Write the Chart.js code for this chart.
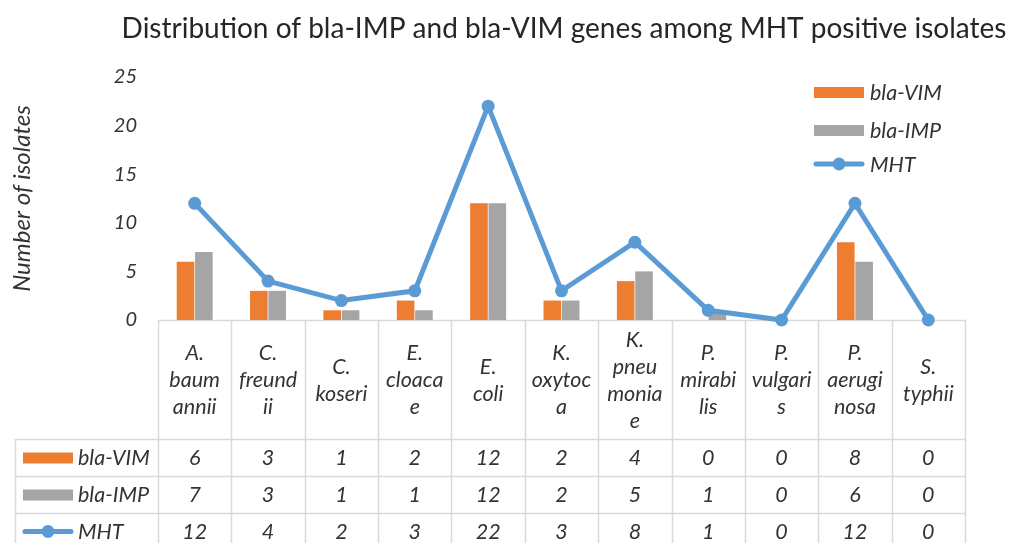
<!DOCTYPE html>
<html>
<head>
<meta charset="utf-8">
<script src="https://cdn.jsdelivr.net/npm/chart.js@4.4.1/dist/chart.umd.min.js"></script>
<style>
html,body{margin:0;padding:0;background:#fff;}
#wrap{width:1010px;height:543px;position:relative;}
</style>
</head>
<body>
<div id="wrap"><canvas id="c" width="1010" height="543"></canvas></div>
<script>
// ---- data ----
const titleText = 'Distribution of bla-IMP and bla-VIM genes among MHT positive isolates';
const yAxisTitle = 'Number of isolates';
const categories = ['A. baumannii','C. freundii','C. koseri','E. cloacae','E. coli','K. oxytoca','K. pneumoniae','P. mirabilis','P. vulgaris','P. aeruginosa','S. typhii'];
const categoryLines = [
  ['A.','baum','annii'],
  ['C.','freund','ii'],
  ['C.','koseri'],
  ['E.','cloaca','e'],
  ['E.','coli'],
  ['K.','oxytoc','a'],
  ['K.','pneu','monia','e'],
  ['P.','mirabi','lis'],
  ['P.','vulgari','s'],
  ['P.','aerugi','nosa'],
  ['S.','typhii']
];
const seriesNames = ['bla-VIM','bla-IMP','MHT'];
const blaVIM = [6,3,1,2,12,2,4,0,0,8,0];
const blaIMP = [7,3,1,1,12,2,5,1,0,6,0];
const MHT    = [12,4,2,3,22,3,8,1,0,12,0];
const yTicks = [0,5,10,15,20,25];

const ORANGE = '#ED7D31', GRAY = '#A5A5A5', BLUE = '#5B9BD5';
const TEXT = '#333333', GRID = '#D9D9D9';
const FONT = 'Lato, "Open Sans", sans-serif';

const tablePlugin = {
  id: 'excelTable',
  beforeDatasetsDraw(chart) {
    const ctx = chart.ctx, x = chart.scales.x, ca = chart.chartArea;
    const n = categories.length;
    const w = (x.right - x.left) / n;
    const rowTop = ca.bottom + 119;
    const rowH = 37;
    const H = chart.height;
    ctx.save();
    ctx.strokeStyle = GRID;
    ctx.lineWidth = 1.5;
    ctx.beginPath();
    ctx.moveTo(x.left, ca.bottom + 0.5); ctx.lineTo(x.right, ca.bottom + 0.5);
    for (let i = 0; i <= n; i++) {
      const px = Math.round(x.left + i * w) + 0.5;
      ctx.moveTo(px, ca.bottom); ctx.lineTo(px, H);
    }
    for (let r = 0; r < 3; r++) {
      const py = Math.round(rowTop + r * rowH) + 0.5;
      ctx.moveTo(15, py); ctx.lineTo(x.right, py);
    }
    ctx.moveTo(15.5, rowTop); ctx.lineTo(15.5, H);
    ctx.stroke();
    ctx.restore();
  },
  afterDraw(chart) {
    const ctx = chart.ctx, x = chart.scales.x, ca = chart.chartArea;
    const n = categories.length;
    const rowTop = ca.bottom + 119;
    const rowH = 37;
    ctx.save();
    // title
    ctx.fillStyle = '#262626';
    ctx.font = '28px ' + FONT;
    ctx.textAlign = 'center';
    ctx.textBaseline = 'middle';
    ctx.fillText(titleText, 564, 29);

    // category labels
    ctx.fillStyle = TEXT;
    ctx.font = 'italic 21.5px ' + FONT;
    const lh = 27;
    const midY = (ca.bottom + rowTop) / 2 + 1;
    for (let i = 0; i < n; i++) {
      const cx = x.getPixelForValue(i);
      const lines = categoryLines[i];
      const y0 = midY - (lines.length - 1) * lh / 2;
      lines.forEach((t, k) => ctx.fillText(t, cx, y0 + k * lh));
    }
    // table values
    const rows = [blaVIM, blaIMP, MHT];
    rows.forEach((arr, r) => {
      const cy = rowTop + r * rowH + rowH / 2 + 1;
      arr.forEach((v, i) => ctx.fillText(String(v), x.getPixelForValue(i), cy));
    });
    // legend keys
    const drawKey = (r, sx, sy, tx) => {
      if (r < 2) {
        ctx.fillStyle = r === 0 ? ORANGE : GRAY;
        ctx.fillRect(sx, sy - 5, 50, 11);
      } else {
        ctx.strokeStyle = BLUE; ctx.lineWidth = 5; ctx.lineCap = 'round';
        ctx.beginPath(); ctx.moveTo(sx + 2, sy); ctx.lineTo(sx + 48, sy); ctx.stroke();
        ctx.fillStyle = BLUE;
        ctx.beginPath(); ctx.arc(sx + 25, sy, 6.5, 0, Math.PI * 2); ctx.fill();
      }
      ctx.fillStyle = TEXT;
      ctx.textAlign = 'left';
      ctx.fillText(seriesNames[r], tx, sy + 1);
      ctx.textAlign = 'center';
    };
    for (let r = 0; r < 3; r++) {
      drawKey(r, 23, rowTop + r * rowH + rowH / 2, 78);
    }
    const legY = [92, 130, 164];
    for (let r = 0; r < 3; r++) drawKey(r, 814, legY[r], 870);
    ctx.restore();
  }
};

new Chart(document.getElementById('c'), {
  type: 'bar',
  data: {
    labels: categories,
    datasets: [
      { label: seriesNames[0], data: blaVIM, backgroundColor: ORANGE, order: 2,
        categoryPercentage: 0.5, barPercentage: 0.96 },
      { label: seriesNames[1], data: blaIMP, backgroundColor: GRAY, order: 2,
        categoryPercentage: 0.5, barPercentage: 0.96 },
      { type: 'line', label: seriesNames[2], data: MHT, borderColor: BLUE, backgroundColor: BLUE,
        borderWidth: 5, pointRadius: 6.5, pointHoverRadius: 6.5, pointBackgroundColor: BLUE,
        pointBorderWidth: 0, tension: 0, order: 1, clip: false }
    ]
  },
  options: {
    responsive: false,
    animation: false,
    devicePixelRatio: 1,
    layout: { padding: { left: 0, right: 45, top: 77, bottom: 0 } },
    plugins: { legend: { display: false }, title: { display: false }, tooltip: { enabled: false } },
    scales: {
      x: {
        grid: { display: false, drawTicks: false },
        border: { display: false },
        ticks: { display: false },
        afterFit(s) { s.height = 223; }
      },
      y: {
        min: 0, max: 25,
        afterBuildTicks(s) { s.ticks = yTicks.map(v => ({ value: v })); },
        grid: { display: false, drawTicks: false },
        border: { display: false },
        ticks: { padding: 21, color: TEXT, font: { family: FONT, size: 20, style: 'italic' } },
        title: { display: true, text: yAxisTitle, color: TEXT, padding: { top: 8, bottom: 0 },
                 font: { family: FONT, size: 24, style: 'italic' } },
        afterFit(s) { s.width = 158; }
      }
    }
  },
  plugins: [tablePlugin]
});
</script>
</body>
</html>
